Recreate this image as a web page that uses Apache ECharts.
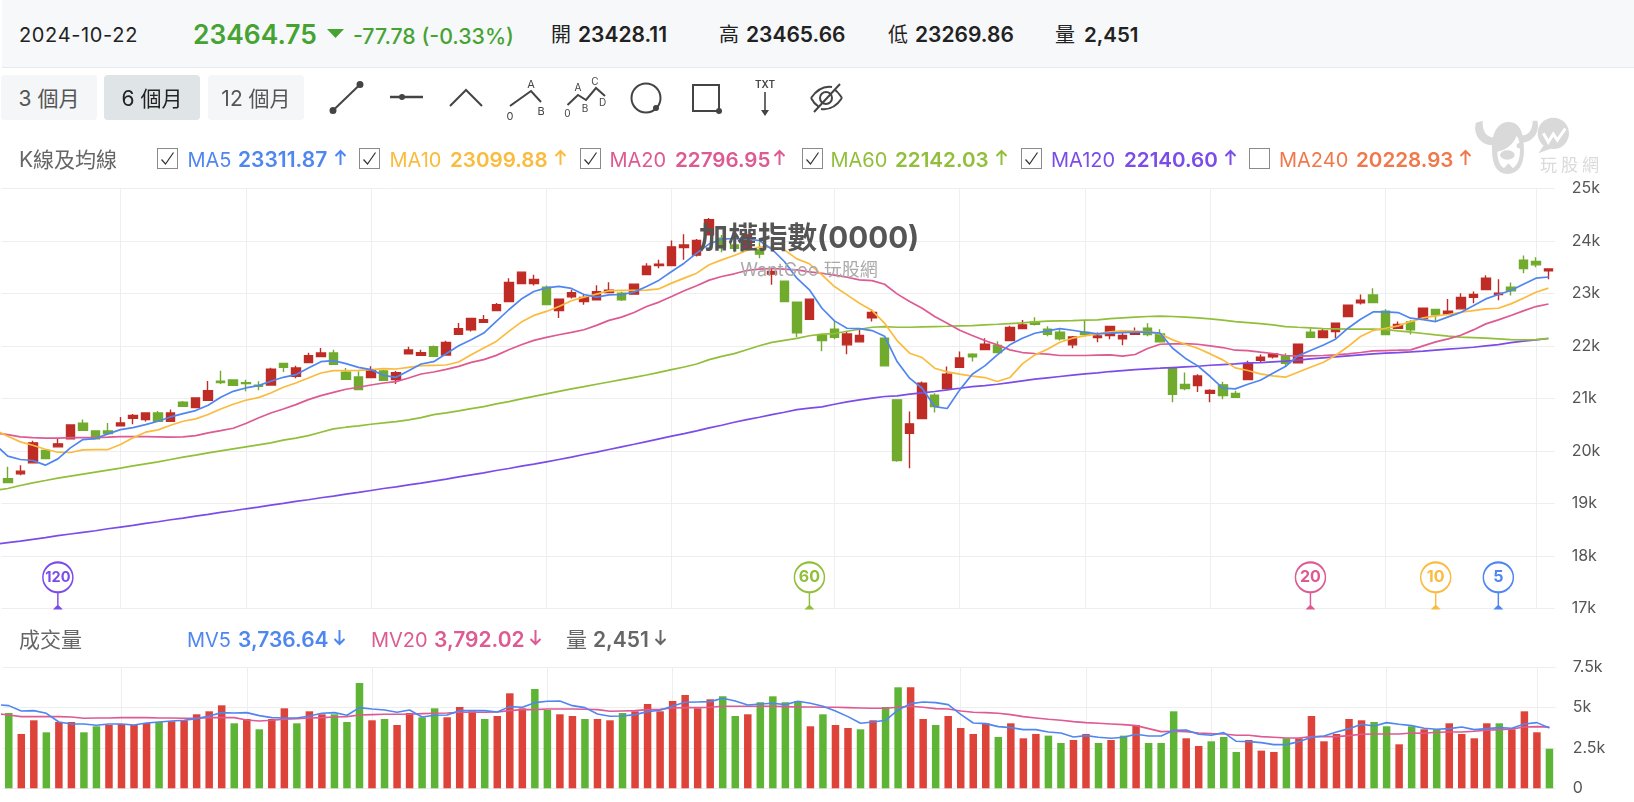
<!DOCTYPE html>
<html lang="zh-Hant">
<head>
<meta charset="utf-8">
<title>加權指數(0000)</title>
<script src="https://cdn.jsdelivr.net/npm/echarts@6/dist/echarts.min.js"></script>
<style>
  html,body{margin:0;padding:0;background:#fff;width:1634px;height:802px;overflow:hidden;
    font-family:Inter,"Noto Sans CJK TC","Noto Sans",sans-serif;}
  #chart{position:absolute;left:0;top:0;width:1634px;height:802px;}
  .bar{position:absolute;left:2px;top:0;width:1632px;height:67px;background:#F7F8FA;border-bottom:1px solid #E6E9EE;}
  .t{position:absolute;white-space:nowrap;line-height:26px;font-size:20px;}
  .h{font-size:21px;}
  .b{font-weight:600;font-size:21px;}
  .n{font-size:20.6px;}
  .btn{position:absolute;top:75px;height:45px;width:96px;border-radius:4px;background:#F4F6F7;color:#555;
    font-size:21px;line-height:47px;text-align:center;}
  .btn.on{background:#DFE4E7;color:#222;}
  .cb{position:absolute;top:148px;width:19px;height:19px;border:1px solid #8a8a8a;background:#fff;}
  .cb svg{position:absolute;left:2px;top:2px;}
  .ar{position:absolute;width:13px;height:17px;fill:none;stroke:currentColor;stroke-width:2;}
  #tools,#logo{position:absolute;left:0;top:0;pointer-events:none;}
</style>
</head>
<body>
<div id="chart"></div>

<div class="bar"></div>
<span class="t" style="left:19px;top:22px;color:#222;letter-spacing:.65px">2024-10-22</span>
<span class="t" style="left:193px;top:21px;color:#46A332;font-size:26.4px;font-weight:600">23464.75</span>
<svg style="position:absolute;left:327px;top:29px" width="17" height="10"><path d="M0 0H17L8.5 9Z" fill="#46A332"/></svg>
<span class="t" style="left:353px;top:23px;color:#46A332;font-weight:500;font-size:21.3px">-77.78 (-0.33%)</span>
<span class="t" style="left:551px;top:22px;color:#222">開</span><span class="t b" style="left:578px;top:22px;color:#222">23428.11</span>
<span class="t" style="left:719px;top:22px;color:#222">高</span><span class="t b" style="left:746px;top:22px;color:#222">23465.66</span>
<span class="t" style="left:888px;top:22px;color:#222">低</span><span class="t b" style="left:915px;top:22px;color:#222">23269.86</span>
<span class="t" style="left:1055px;top:22px;color:#222">量</span><span class="t b" style="left:1084px;top:22px;color:#222;font-size:20.5px">2,451</span>

<div class="btn" style="left:1px">3 個月</div>
<div class="btn on" style="left:104px">6 個月</div>
<div class="btn" style="left:208px">12 個月</div>

<svg id="tools" width="1634" height="130" fill="none" stroke="#444" stroke-width="2" font-family="Inter,sans-serif" font-size="11">
  <path d="M333 110.5L360 84.5"/><circle cx="333" cy="110.5" r="2.5" fill="#444"/><circle cx="360" cy="84.5" r="2.5" fill="#444"/>
  <path d="M390 97H423" stroke-width="2.5"/><circle cx="402" cy="97" r="3" fill="#444" stroke="none"/>
  <path d="M450 106L466 90L482 106"/>
  <path d="M510 106L531 91L541 102"/>
  <g fill="#444" stroke="none" text-anchor="middle"><text x="531" y="88">A</text><text x="510" y="120">0</text><text x="541" y="115">B</text></g>
  <path d="M567.5 105L578 95L586 100L596 88L605 96"/>
  <g fill="#444" stroke="none" text-anchor="middle" font-size="10"><text x="578" y="91">A</text><text x="595" y="85">C</text><text x="585" y="112">B</text><text x="602.5" y="106">D</text><text x="567.5" y="117">0</text></g>
  <circle cx="646" cy="98" r="14.5"/><circle cx="656" cy="108" r="3" fill="#444" stroke="none"/>
  <rect x="693" y="85" width="26" height="26"/><circle cx="719" cy="111" r="3" fill="#444" stroke="none"/>
  <text x="765" y="88" fill="#444" stroke="none" text-anchor="middle" font-size="10" font-weight="600">TXT</text>
  <path d="M765 92V115" stroke-width="1.6"/><path d="M761 110L765 116L769 110Z" fill="#444" stroke="none"/>
  <path d="M811 98C818 88 826 86 832 87M842 98C836 107 828 110 821 109M811 98C813 102 816 105 819 107M842 98C840 95 838 92 835 90"/>
  <circle cx="826" cy="98" r="6"/>
  <path d="M814 112L840 84"/>
</svg>

<svg style="display:none">
  <symbol id="up" viewBox="0 0 13 17"><path d="M6.5 16V2M1.5 7L6.5 2L11.5 7"/></symbol>
  <symbol id="down" viewBox="0 0 13 17"><path d="M6.5 1V15M1.5 10L6.5 15L11.5 10"/></symbol>
  <symbol id="tick" viewBox="0 0 15 15"><path d="M1.5 8.5L5.5 13L13.5 1.5" fill="none" stroke="#333" stroke-width="1.2"/></symbol>
</svg>

<span class="t h" style="left:19px;top:147px;color:#666">K線及均線</span>

<div class="cb" style="left:157px"><svg width="15" height="15"><use href="#tick"/></svg></div>
<span class="t" style="left:187.5px;top:147px;color:#4F86F0">MA5</span><span class="t b" style="left:238px;top:147px;color:#4F86F0">23311.87</span>
<svg class="ar" style="left:334px;top:149px;color:#4F86F0"><use href="#up"/></svg>

<div class="cb" style="left:359px"><svg width="15" height="15"><use href="#tick"/></svg></div>
<span class="t" style="left:389.5px;top:147px;color:#FABB3E">MA10</span><span class="t b n" style="left:450px;top:147px;color:#FABB3E">23099.88</span>
<svg class="ar" style="left:554px;top:149px;color:#FABB3E"><use href="#up"/></svg>

<div class="cb" style="left:580px"><svg width="15" height="15"><use href="#tick"/></svg></div>
<span class="t" style="left:609.5px;top:147px;color:#DD5A92">MA20</span><span class="t b n" style="left:675px;top:147px;color:#DD5A92">22796.95</span>
<svg class="ar" style="left:773px;top:149px;color:#DD5A92"><use href="#up"/></svg>

<div class="cb" style="left:802px"><svg width="15" height="15"><use href="#tick"/></svg></div>
<span class="t" style="left:830.5px;top:147px;color:#92BF3A">MA60</span><span class="t b n" style="left:895px;top:147px;color:#92BF3A">22142.03</span>
<svg class="ar" style="left:995px;top:149px;color:#92BF3A"><use href="#up"/></svg>

<div class="cb" style="left:1021px"><svg width="15" height="15"><use href="#tick"/></svg></div>
<span class="t" style="left:1051px;top:147px;color:#7B4CE8">MA120</span><span class="t b n" style="left:1124px;top:147px;color:#7B4CE8">22140.60</span>
<svg class="ar" style="left:1224px;top:149px;color:#7B4CE8"><use href="#up"/></svg>

<div class="cb" style="left:1249px"></div>
<span class="t" style="left:1279px;top:147px;color:#F0784A">MA240</span><span class="t b n" style="left:1356px;top:147px;color:#F0784A">20228.93</span>
<svg class="ar" style="left:1459px;top:149px;color:#F0784A"><use href="#up"/></svg>

<span class="t h" style="left:19px;top:627px;color:#666">成交量</span>
<span class="t" style="left:187px;top:627px;color:#4F86F0">MV5</span><span class="t b" style="left:238px;top:627px;color:#4F86F0">3,736.64</span>
<svg class="ar" style="left:333px;top:629px;color:#4F86F0"><use href="#down"/></svg>
<span class="t" style="left:371px;top:627px;color:#DD5A92">MV20</span><span class="t b" style="left:434px;top:627px;color:#DD5A92">3,792.02</span>
<svg class="ar" style="left:529px;top:629px;color:#DD5A92"><use href="#down"/></svg>
<span class="t h" style="left:566px;top:627px;color:#666">量</span><span class="t b" style="left:593px;top:627px;color:#666">2,451</span>
<svg class="ar" style="left:654px;top:629px;color:#666"><use href="#down"/></svg>

<svg id="logo" width="1634" height="200">
  <g transform="translate(1420,100) scale(.3333)" fill="#D9D9D9">
    <path d="M168 68C155 110 195 145 228 132L230 112C205 116 186 100 188 62Z"/>
    <path d="M352 62C362 105 330 132 298 126L298 106C320 110 338 96 338 62Z"/>
    <path d="M216 150C214 90 240 66 265 66C295 66 312 90 312 150C312 195 295 222 262 222C232 222 216 195 216 150Z"/>
    <path d="M232 155C262 150 282 128 290 108C297 116 300 132 300 152C300 180 290 198 278 204L266 190L252 204C240 198 232 180 232 155Z" fill="#fff"/>
    <ellipse cx="262" cy="165" rx="22" ry="14"/>
    <circle cx="298" cy="137" r="8"/>
    <circle cx="400" cy="100" r="47"/>
    <path d="M372 135L355 160L392 146Z"/>
    <path d="M370 100L385 126L400 102L412 120L436 86" fill="none" stroke="#fff" stroke-width="9"/>
  </g>
  <text x="1540" y="171" font-size="17" letter-spacing="4" fill="#DADADA" font-family="'Noto Sans CJK TC',sans-serif">玩股網</text>
</svg>

<script>
// Sessions shown, oldest first. The first entry of every moving-average array
// is the session just before the visible window, so the lines run to the left edge.
const candles = [
  [19467,19397,19391,19695],[19562,19613,19537,19727],[19771,20152,19771,20190],[20006,19854,19854,20006],
  [20076,20133,20076,20234],[20228,20494,20228,20494],[20526,20393,20393,20596],[20380,20228,20228,20380],
  [20380,20329,20329,20532],[20475,20532,20475,20646],[20621,20672,20507,20703],[20596,20722,20558,20722],
  [20722,20564,20564,20760],[20564,20722,20564,20786],[20925,20849,20849,20951],[20824,21008,20824,21008],
  [20963,21147,20963,21331],[21325,21299,21274,21528],[21350,21249,21249,21350],[21299,21280,21134,21356],
  [21249,21230,21154,21325],[21255,21553,21255,21585],[21667,21591,21502,21667],[21420,21578,21382,21623],
  [21680,21813,21680,21870],[21794,21864,21794,21959],[21864,21648,21648,21927],[21496,21363,21363,21578],
  [21407,21166,21166,21515],[21394,21547,21394,21610],[21521,21344,21344,21547],[21356,21490,21274,21521],
  [21851,21921,21851,21984],[21819,21870,21819,21927],[21984,21800,21800,22009],[21826,22066,21826,22098],
  [22219,22326,22219,22434],[22307,22523,22276,22523],[22447,22498,22447,22586],[22675,22783,22675,22815],
  [22846,23208,22846,23290],[23189,23404,23189,23404],[23189,23265,23151,23353],[23119,22789,22789,23151],
  [22675,22891,22529,22891],[22935,23011,22903,23068],[22846,22922,22783,22973],[22878,23030,22878,23157],
  [23017,23062,23017,23214],[23005,22878,22853,23030],[22986,23176,22986,23176],[23360,23518,23360,23575],
  [23531,23556,23480,23639],[23531,23886,23531,24007],[23873,23924,23639,24127],[23728,24007,23702,24038],
  [24114,24406,24114,24438],[24051,23892,23785,24114],[23924,23861,23785,24019],[23861,24114,23829,24178],
  [23829,23747,23671,23975],[23366,23417,23163,23480],[23233,22846,22846,23233],[22834,22250,22162,22834],
  [22504,22891,22504,22891],[22203,22101,21898,22203],[22317,22165,22127,22476],[22019,22228,21841,22273],
  [22076,22197,22076,22304],[22533,22635,22463,22698],[22146,21619,21619,22146],[20971,19815,19790,20971],
  [20336,20514,19669,20749],[20615,21288,20615,21320],[21060,20844,20730,21098],[21187,21460,21187,21606],
  [21593,21771,21593,21892],[21841,21790,21701,21860],[21930,22031,21930,22146],[22006,21873,21873,22089],
  [22101,22349,22101,22381],[22330,22400,22330,22495],[22457,22412,22387,22546],[22317,22222,22184,22374],
  [22260,22133,22101,22317],[22019,22171,21955,22190],[22254,22216,22216,22476],[22158,22190,22070,22254],
  [22197,22368,22127,22368],[22133,22197,22012,22273],[22222,22254,22222,22349],[22336,22216,22184,22431],
  [22228,22076,22076,22317],[21574,21079,20927,21574],[21263,21187,21155,21492],[21244,21428,21123,21460],
  [21098,21149,20927,21174],[21257,21054,20984,21314],[21092,21022,21022,21143],[21358,21657,21358,21714],
  [21727,21784,21689,21835],[21790,21847,21758,21860],[21809,21670,21606,21860],[21676,22031,21676,22031],
  [22260,22165,22165,22336],[22158,22285,22158,22323],[22273,22431,22152,22431],[22558,22774,22558,22774],
  [22819,22870,22787,22978],[22971,22825,22825,23098],[22660,22216,22216,22698],[22336,22406,22336,22463],
  [22457,22304,22216,22495],[22520,22717,22520,22717],[22692,22590,22470,22692],[22609,22660,22609,22895],
  [22705,22920,22705,23003],[22927,22978,22813,23035],[23073,23289,23073,23346],[22978,23003,22870,23270],
  [23117,23048,22959,23206],[23632,23473,23384,23721],[23606,23543,23498,23689],[23428.11,23464.75,23269.86,23465.66]
];

const ma5 = [20120,19898,19835,19816,19727,19847,20057,20215,20234,20323,20405,20443,20500,20564,20646,20710,20767,20868,21020,21134,21198,21242,21325,21401,21451,21578,21699,21718,21661,21591,21547,21439,21401,21528,21654,21699,21851,22003,22117,22244,22466,22688,22891,23036,23106,23132,23094,22979,22929,22973,22979,23024,23132,23252,23417,23575,23766,23943,24032,24045,24032,24007,23842,23607,23290,23068,22717,22476,22336,22330,22292,22184,21701,21384,21193,20844,20806,21161,21460,21619,21828,22019,22146,22241,22285,22330,22298,22260,22228,22241,22254,22260,22260,22241,21955,21765,21619,21416,21193,21181,21269,21346,21479,21606,21809,21911,22012,22127,22336,22508,22647,22647,22635,22527,22501,22463,22552,22635,22762,22895,22978,23054,23174,23289,23311.87];

const ma10 = [20393,20279,20171,20107,20031,19974,19968,20019,20025,20025,20120,20247,20355,20399,20488,20564,20608,20691,20798,20887,20963,21014,21103,21211,21293,21388,21483,21528,21528,21534,21547,21566,21559,21591,21623,21629,21635,21692,21832,21959,22085,22276,22453,22580,22656,22751,22859,22929,22986,23049,23056,23056,23062,23087,23195,23290,23385,23544,23639,23721,23816,23880,23880,23829,23658,23563,23352,23130,22971,22813,22673,22432,22101,21860,21777,21574,21504,21460,21422,21396,21320,21396,21657,21828,21936,22070,22146,22190,22228,22266,22285,22279,22266,22228,22114,22031,21955,21847,21733,21581,21530,21466,21428,21403,21498,21593,21682,21816,21987,22178,22292,22336,22381,22463,22533,22571,22597,22641,22673,22705,22717,22800,22908,23022,23099.88];

const ma20 = [20342,20310,20266,20253,20241,20241,20253,20253,20253,20260,20272,20272,20272,20266,20260,20266,20291,20342,20386,20431,20520,20627,20722,20798,20881,20976,21052,21115,21173,21211,21255,21293,21318,21388,21464,21502,21553,21610,21686,21737,21819,21927,22022,22105,22162,22212,22257,22307,22390,22485,22548,22637,22751,22834,22941,23049,23144,23252,23322,23373,23436,23461,23474,23461,23449,23411,23384,23346,23308,23257,23244,23174,22990,22844,22717,22559,22432,22298,22197,22101,22019,21924,21873,21854,21841,21816,21816,21816,21822,21828,21803,21835,21949,22031,22038,22044,22031,22000,21968,21917,21911,21879,21854,21816,21803,21809,21816,21828,21847,21873,21904,21911,21917,21924,22000,22076,22133,22203,22304,22419,22495,22578,22666,22749,22796.95];

const ma60 = [19245,19283,19340,19391,19435,19480,19518,19556,19594,19632,19670,19714,19752,19790,19835,19879,19917,19962,20000,20038,20076,20114,20152,20203,20241,20291,20355,20418,20450,20475,20507,20532,20558,20589,20634,20691,20722,20760,20805,20843,20894,20938,20989,21039,21084,21134,21179,21223,21268,21312,21356,21401,21445,21496,21547,21597,21654,21737,21800,21851,21927,22003,22066,22105,22143,22193,22222,22235,22279,22317,22355,22368,22355,22355,22362,22368,22374,22381,22387,22400,22412,22425,22438,22457,22470,22476,22482,22489,22495,22520,22533,22546,22559,22565,22559,22546,22533,22514,22489,22463,22444,22425,22400,22368,22355,22343,22330,22324,22317,22317,22317,22311,22285,22260,22235,22209,22184,22165,22158,22146,22133,22120,22114,22120,22142.03];

const ma120 = [18218,18250,18281,18313,18345,18383,18415,18446,18478,18516,18548,18579,18618,18649,18687,18719,18757,18789,18827,18858,18896,18928,18966,18998,19036,19068,19106,19137,19175,19207,19245,19283,19315,19353,19385,19423,19461,19505,19543,19581,19626,19664,19708,19746,19790,19835,19879,19930,19974,20025,20076,20126,20177,20228,20279,20329,20380,20437,20488,20545,20596,20640,20691,20735,20786,20812,20838,20888,20933,20971,21003,21035,21047,21079,21104,21130,21162,21193,21225,21244,21269,21301,21333,21365,21390,21416,21441,21466,21485,21511,21530,21549,21562,21574,21587,21600,21612,21631,21644,21657,21676,21682,21695,21708,21727,21752,21771,21790,21809,21828,21847,21860,21873,21885,21898,21917,21936,21955,21974,22000,22025,22063,22089,22114,22140.60];

const volume = [4669,3368,4215,3471,4111,4111,3471,3843,3925,3987,3925,4049,4111,4153,4215,4587,4772,5144,4029,4297,3657,4297,4958,4029,4772,4587,4587,4111,6529,4215,4297,3925,4669,4401,4958,4401,5041,4772,4297,4483,5888,4958,6157,4855,4587,4483,4297,4297,4215,4669,4772,5227,4772,5413,5785,4958,5516,5702,4483,4587,5330,5702,5330,5413,3843,4587,3925,3739,3657,4215,5041,6260,6260,4297,3925,4483,3739,3368,4029,3182,4029,3099,3368,3264,2810,2996,3368,2810,2996,3264,3925,2810,2810,4772,3099,2624,2913,3182,2252,2996,2335,2252,3099,3099,4483,2913,3368,4297,4215,4111,3843,2727,3843,3657,3657,4029,3368,3099,4029,4029,3657,4772,3471,2451];

// r = session closed up on the previous close, g = closed down
const volumeTone = 'grrgrrggrr' + 'rrgrrrrrgr' + 'grrgrrgggr' + 'grrggrrrgr' + 'rrggrrgrrg' + 'rrrrrrrggr' + 'ggggrgrrgr' + 'ggrrgrrrrg' + 'rrrggrrgrg' + 'rgggrrgggr' + 'rrgrrrrrrg' + 'grgrgrrrrg' + 'rrrg';

const mv5 = [5186,5124,4793,4814,4649,4111,3987,3987,3905,3987,3987,3925,4049,4111,4173,4215,4318,4483,4690,4669,4690,4504,4380,4359,4359,4483,4649,4690,4525,5000,4917,4855,4710,4855,4421,4525,4545,4814,4814,4814,4731,5062,5020,5310,5392,5413,5124,5000,4607,4463,4483,4566,4752,4834,5103,5330,5351,5372,5578,5413,5165,5227,5268,5186,5392,5268,5082,4793,4442,4029,4111,4215,4855,5248,5351,5310,5186,4587,4049,4008,3822,3760,3636,3636,3492,3430,3182,3264,3161,3099,3161,3347,3244,3244,3595,3616,3347,3285,3450,2913,2892,2830,2706,2706,2892,3161,3244,3492,3698,3967,3863,4070,3967,3884,3719,3657,3698,3801,3636,3698,3760,3719,3987,4070,3736.64];

const mv20 = [4628,4545,4442,4442,4442,4442,4421,4339,4359,4359,4380,4380,4380,4359,4359,4339,4339,4380,4380,4380,4235,4173,4215,4277,4318,4359,4380,4421,4442,4545,4566,4587,4587,4587,4628,4649,4669,4710,4710,4710,4731,4814,4876,4876,4917,4917,4917,4896,4876,4772,4793,4814,4876,4896,4979,5000,5000,5020,5082,5082,5082,5082,5082,5062,5041,5041,5020,5020,5000,4979,4958,4958,5020,5082,5020,4938,4917,4793,4710,4690,4649,4566,4442,4359,4277,4215,4132,4070,4029,3987,3946,3884,3698,3512,3533,3512,3430,3388,3368,3285,3285,3202,3161,3120,3120,3202,3202,3202,3264,3347,3368,3368,3368,3430,3409,3471,3492,3492,3533,3595,3636,3677,3801,3822,3792.02];

// Month boundaries, as positions among the visible sessions
const monthStarts = [9,19,29,43,53,66,76,86,96,110,122];
const priceTicks = {min:17000, max:25000, step:1000};
const volumeTicks = {min:0, max:7500, step:2500};

// Sessions where each moving average's look-back window begins
const windowStarts = [
  {label:'120', session:4,   color:'#7B4CE8', size:14.5},
  {label:'60',  session:64,  color:'#92BF3A', size:16},
  {label:'20',  session:104, color:'#DD5A92', size:16},
  {label:'10',  session:114, color:'#FABB3E', size:16},
  {label:'5',   session:119, color:'#4F86F0', size:16}
];

const UP = '#BE2C25', DOWN = '#70AB2E', VOL_UP = '#DD4339', VOL_DOWN = '#5EB535';
const FONT = 'Inter, "Noto Sans CJK TC", sans-serif';
const GRID = '#EDEEF0';

const sessions = ma5.map((_, i) => String(i - 1));
const monthSet = new Set(monthStarts.map(i => i + 1));
// Round marker on a short stem with a small foot
const PIN = 'path://M16 1C24.28 1 31 7.72 31 16C31 24.28 24.28 31 16 31C7.72 31 1 24.28 1 16C1 7.72 7.72 1 16 1Z' +
            'M16 31L16 45M13.5 47L18.5 47L16 44.5Z';

function xAxis(gridIndex) {
  return {
    type: 'category', gridIndex, data: sessions, min: 1, boundaryGap: true,
    axisLine: {show: false}, axisTick: {show: false}, axisLabel: {show: false},
    splitLine: {show: true, alignWithLabel: true, interval: i => monthSet.has(i),
                lineStyle: {color: GRID, width: 1}}
  };
}
function yAxis(gridIndex, ticks, fmt) {
  return {
    type: 'value', gridIndex, position: 'right', min: ticks.min, max: ticks.max, interval: ticks.step,
    axisLine: {show: false}, axisTick: {show: false},
    axisLabel: {margin: 17, fontSize: 16, color: '#555', fontFamily: FONT, formatter: fmt},
    splitLine: {show: true, lineStyle: {color: GRID, width: 1}}
  };
}
function line(name, data, color, xi, width, extra) {
  return Object.assign({
    type: 'line', name, data, xAxisIndex: xi, yAxisIndex: xi, showSymbol: false, silent: true,
    smooth: false, z: 4, lineStyle: {color, width}, itemStyle: {color}
  }, extra || {});
}

const chart = echarts.init(document.getElementById('chart'), null, {renderer: 'canvas'});
chart.setOption({
  animation: false,
  backgroundColor: 'transparent',
  title: [
    {text: '加權指數(0000)', left: 809, top: 224, textAlign: 'center',
     textStyle: {fontSize: 29.6, fontWeight: 'bold', color: '#555', fontFamily: FONT}, padding: 0},
    {text: 'WantGoo 玩股網', left: 809, top: 262, textAlign: 'center',
     textStyle: {fontSize: 18, fontWeight: 'normal', color: '#AAA', fontFamily: FONT}, padding: 0}
  ],
  grid: [
    {left: 1.5, right: 79.3, top: 188.4, height: 419.9},
    {left: 2.5, right: 78.3, top: 667.3, height: 121}
  ],
  xAxis: [xAxis(0), xAxis(1)],
  yAxis: [
    yAxis(0, priceTicks, v => (v / 1000) + 'k'),
    yAxis(1, volumeTicks, v => v === 0 ? '0' : (v / 1000) + 'k')
  ],
  series: [
    {
      type: 'candlestick', name: 'K', xAxisIndex: 0, yAxisIndex: 0, barWidth: 9, silent: true, z: 3,
      data: [['-','-','-','-']].concat(candles),
      itemStyle: {color: UP, color0: DOWN, borderColor: UP, borderColor0: DOWN, borderWidth: 1.4}
    },
    line('MA120', ma120, '#7B4CE8', 0, 1.7),
    line('MA60', ma60, '#92BF3A', 0, 1.7),
    line('MA20', ma20, '#DD5A92', 0, 1.7),
    line('MA10', ma10, '#FABB3E', 0, 1.7),
    line('MA5', ma5, '#4F86F0', 0, 1.7, {
      markPoint: {
        silent: true, animation: false, z: 6,
        symbol: PIN, symbolSize: [30, 46], symbolOffset: [0, -23],
        data: windowStarts.map(p => ({
          coord: [String(p.session), priceTicks.min],
          itemStyle: {color: '#fff', borderColor: p.color, borderWidth: 1.8},
          label: {show: true, formatter: p.label, position: 'inside', offset: [0, -8],
                  color: p.color, fontSize: p.size, fontWeight: 700, fontFamily: FONT}
        }))
      }
    }),
    {
      type: 'bar', name: '量', xAxisIndex: 1, yAxisIndex: 1, barWidth: 7.5, silent: true, z: 3,
      data: ['-'].concat(volume.map((v, i) => ({
        value: v, itemStyle: {color: volumeTone[i] === 'r' ? VOL_UP : VOL_DOWN}
      })))
    },
    line('MV20', mv20, '#DD5A92', 1, 1.6),
    line('MV5', mv5, '#4F86F0', 1, 1.6)
  ]
});
</script>
</body>
</html>
